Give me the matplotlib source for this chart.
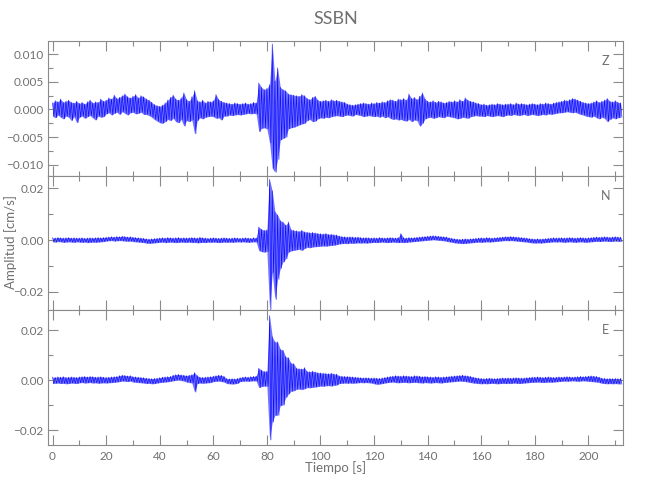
import numpy as np
import matplotlib
matplotlib.use('Agg')
import matplotlib.pyplot as plt
from matplotlib.ticker import MultipleLocator, FuncFormatter

plt.rcParams['font.family'] = ['Lato', 'DejaVu Sans']

# seismogram envelope: one (max, min) pair per second,
# in units of 1e-4 cm/s, t = 0 .. 212 s
tiempo = np.arange(213)

z_hi = [12, 16, 14, 19, 13, 15, 17, 13, 12, 15,
        11, 13, 10, 14, 17, 12, 14, 13, 19, 15,
        17, 21, 19, 26, 20, 22, 25, 28, 23, 21,
        24, 27, 21, 25, 23, 19, 17, 13, 9, 7,
        6, 8, 12, 17, 22, 26, 19, 17, 21, 30,
        18, 15, 23, 34, 16, 14, 17, 12, 15, 14,
        16, 27, 18, 15, 13, 12, 11, 10, 12, 11,
        10, 11, 12, 10, 11, 13, 12, 48, 40, 36,
        38, 45, 118, 51, 75, 40, 36, 34, 28, 27,
        26, 25, 24, 27, 25, 20, 18, 22, 24, 17,
        15, 16, 17, 15, 18, 16, 17, 15, 14, 13,
        10, 9, 8, 9, 10, 11, 12, 11, 10, 12,
        11, 13, 12, 14, 13, 16, 18, 17, 15, 19,
        18, 20, 17, 28, 20, 22, 18, 24, 30, 19,
        15, 14, 16, 13, 15, 14, 12, 13, 15, 14,
        16, 14, 18, 15, 21, 17, 15, 14, 12, 11,
        9, 10, 8, 9, 10, 9, 11, 10, 9, 10,
        10, 11, 9, 12, 10, 11, 10, 9, 10, 11,
        10, 9, 11, 10, 12, 11, 10, 12, 13, 14,
        15, 17, 16, 18, 20, 19, 17, 15, 13, 12,
        11, 12, 14, 16, 13, 15, 17, 20, 15, 14,
        16, 13, 12]
z_lo = [-12, -15, -10, -14, -17, -12, -14, -20, -13, -24,
        -14, -12, -16, -13, -11, -15, -19, -12, -14, -13,
        -8, -6, -10, -7, -5, -9, -4, -7, -10, -6,
        -5, -8, -7, -5, -9, -9, -11, -14, -18, -21,
        -24, -25, -22, -18, -20, -16, -22, -24, -18, -30,
        -20, -22, -19, -44, -20, -15, -17, -14, -13, -12,
        -13, -16, -15, -19, -12, -12, -10, -11, -10, -9,
        -10, -9, -8, -7, -8, -7, -8, -40, -34, -33,
        -35, -60, -106, -113, -90, -55, -52, -50, -35, -33,
        -32, -30, -28, -26, -25, -20, -18, -22, -21, -17,
        -15, -16, -14, -15, -13, -12, -11, -12, -13, -11,
        -10, -11, -12, -9, -10, -11, -13, -12, -11, -12,
        -13, -12, -14, -12, -15, -13, -16, -18, -17, -19,
        -18, -20, -21, -18, -22, -19, -20, -30, -25, -17,
        -15, -14, -16, -15, -13, -14, -15, -12, -13, -14,
        -15, -17, -16, -14, -15, -16, -13, -12, -11, -12,
        -12, -13, -11, -12, -13, -12, -11, -12, -13, -11,
        -10, -11, -9, -10, -11, -10, -9, -11, -10, -9,
        -10, -11, -10, -9, -10, -8, -9, -8, -7, -6,
        -6, -5, -4, -5, -6, -5, -7, -9, -10, -12,
        -13, -14, -12, -15, -17, -14, -16, -22, -18, -15,
        -17, -15, -14]

n_hi = [9, 8, 10, 9, 8, 9, 10, 8, 9, 8,
        8, 9, 7, 8, 9, 8, 9, 10, 9, 10,
        11, 12, 13, 12, 14, 13, 15, 14, 12, 13,
        11, 10, 9, 8, 7, 5, 4, 5, 6, 7,
        8, 9, 8, 10, 9, 8, 9, 10, 8, 9,
        8, 9, 10, 9, 8, 11, 9, 8, 7, 8,
        9, 8, 7, 8, 9, 8, 7, 8, 9, 8,
        7, 8, 9, 8, 7, 9, 8, 51, 42, 38,
        40, 235, 190, 110, 97, 75, 70, 58, 70, 40,
        38, 36, 34, 38, 32, 31, 29, 30, 28, 26,
        25, 24, 26, 22, 23, 21, 20, 16, 14, 13,
        12, 13, 12, 11, 12, 10, 9, 10, 9, 8,
        9, 8, 10, 9, 8, 9, 10, 9, 8, 10,
        25, 9, 8, 10, 9, 10, 11, 12, 13, 14,
        15, 16, 17, 16, 15, 14, 13, 12, 9, 7,
        5, 4, 3, 4, 5, 4, 5, 6, 7, 8,
        9, 8, 10, 9, 8, 9, 10, 11, 12, 13,
        13, 14, 13, 12, 11, 10, 9, 8, 6, 5,
        4, 5, 4, 5, 6, 7, 8, 9, 8, 9,
        9, 8, 9, 10, 9, 8, 9, 10, 9, 8,
        9, 10, 11, 12, 11, 12, 13, 12, 11, 12,
        13, 12, 11]
n_lo = [-7, -8, -6, -7, -9, -8, -7, -8, -9, -7,
        -8, -9, -8, -10, -9, -8, -9, -8, -7, -6,
        -4, -3, -2, -4, -3, -2, -3, -4, -5, -4,
        -6, -7, -8, -9, -10, -12, -13, -12, -11, -10,
        -9, -8, -10, -9, -8, -9, -10, -9, -8, -9,
        -9, -8, -10, -9, -11, -10, -9, -10, -8, -9,
        -8, -9, -10, -9, -8, -9, -8, -9, -8, -7,
        -8, -7, -8, -9, -8, -7, -8, -41, -45, -47,
        -44, -270, -126, -230, -152, -110, -85, -73, -47, -42,
        -40, -38, -36, -40, -33, -28, -30, -27, -26, -25,
        -24, -23, -24, -22, -21, -20, -18, -15, -14, -13,
        -14, -12, -13, -12, -11, -12, -11, -12, -11, -10,
        -9, -10, -9, -8, -9, -10, -9, -8, -9, -10,
        -9, -10, -9, -8, -7, -6, -5, -4, -3, -2,
        -1, 0, 1, 0, -1, -2, -3, -5, -7, -9,
        -11, -12, -13, -14, -13, -12, -11, -10, -9, -8,
        -9, -8, -7, -8, -7, -6, -5, -4, -3, -2,
        -3, -2, -3, -4, -5, -6, -7, -8, -10, -11,
        -12, -11, -12, -11, -10, -9, -8, -7, -8, -7,
        -8, -9, -8, -7, -8, -9, -8, -7, -8, -9,
        -8, -7, -6, -5, -6, -5, -4, -5, -6, -5,
        -4, -5, -6]

e_hi = [12, 11, 13, 12, 14, 11, 12, 13, 12, 11,
        13, 14, 15, 13, 15, 14, 12, 13, 14, 12,
        11, 12, 13, 14, 15, 18, 20, 19, 17, 18,
        14, 13, 12, 11, 10, 8, 7, 6, 7, 8,
        10, 12, 13, 14, 15, 20, 22, 23, 21, 20,
        18, 20, 22, 30, 18, 12, 11, 12, 13, 14,
        16, 18, 20, 19, 15, 6, 5, 6, 5, 7,
        10, 12, 13, 12, 14, 15, 16, 48, 40, 35,
        36, 258, 173, 153, 153, 123, 120, 94, 90, 68,
        66, 48, 46, 45, 50, 35, 34, 36, 33, 30,
        29, 28, 27, 26, 28, 25, 24, 17, 16, 15,
        15, 14, 13, 12, 11, 10, 9, 10, 9, 8,
        9, 8, 7, 9, 11, 13, 15, 16, 18, 17,
        16, 18, 17, 16, 15, 18, 17, 16, 14, 15,
        14, 13, 12, 14, 13, 12, 13, 14, 15, 16,
        17, 18, 19, 20, 18, 17, 15, 12, 10, 8,
        7, 6, 7, 8, 7, 6, 7, 8, 9, 8,
        9, 8, 9, 10, 9, 8, 9, 10, 11, 12,
        12, 13, 12, 11, 12, 13, 12, 11, 12, 13,
        12, 13, 14, 13, 12, 13, 14, 15, 14, 15,
        16, 17, 16, 15, 12, 8, 7, 6, 7, 6,
        7, 6, 7]
e_lo = [-14, -13, -12, -14, -13, -15, -14, -12, -13, -14,
        -11, -10, -12, -11, -10, -12, -11, -13, -12, -11,
        -12, -11, -10, -9, -8, -6, -4, -5, -6, -4,
        -8, -9, -10, -11, -12, -14, -13, -15, -14, -12,
        -10, -9, -8, -7, -5, -3, -1, 0, -2, -4,
        -8, -10, -12, -48, -14, -12, -13, -12, -11, -10,
        -6, -5, -4, -6, -8, -14, -15, -16, -15, -13,
        -6, -5, -4, -5, -4, -3, -4, -30, -26, -24,
        -25, -240, -168, -141, -141, -102, -100, -70, -56, -45,
        -43, -37, -36, -38, -35, -30, -31, -29, -28, -26,
        -24, -25, -23, -22, -24, -21, -20, -14, -13, -12,
        -13, -12, -13, -12, -11, -10, -11, -10, -11, -12,
        -15, -17, -16, -14, -12, -10, -9, -8, -10, -11,
        -10, -9, -10, -11, -10, -9, -10, -11, -12, -10,
        -11, -12, -11, -10, -11, -12, -10, -9, -8, -7,
        -6, -5, -4, -5, -6, -8, -10, -12, -13, -14,
        -15, -14, -15, -14, -13, -14, -15, -14, -13, -14,
        -13, -14, -12, -13, -14, -13, -12, -11, -10, -9,
        -9, -8, -9, -10, -9, -8, -9, -8, -7, -6,
        -5, -4, -5, -4, -3, -4, -5, -4, -3, -4,
        -5, -6, -7, -8, -10, -13, -14, -15, -14, -15,
        -14, -15, -16]

componentes = ['Z', 'N', 'E']
ylims = [(-0.0119, 0.0124), (-0.0272, 0.0250), (-0.0260, 0.0280)]
gris = '#8a8a8a'
gris_txt = '#707070'

fig = plt.figure(figsize=(6.5, 5), dpi=100)
left, width = 47.7 / 650, 575.3 / 650
h = 134.8 / 500
bottoms = [1 - 175.5 / 500, 1 - 310.3 / 500, 1 - 445 / 500]

datos = [(z_hi, z_lo), (n_hi, n_lo), (e_hi, e_lo)]
for k, (hi, lo) in enumerate(datos):
    ax = fig.add_axes([left, bottoms[k], width, h])
    hi = np.array(hi) * 1e-4
    lo = np.array(lo) * 1e-4
    # band between max and min, then zigzag max/min per second on top
    ax.fill_between(tiempo, lo, hi, color='#0000ff', alpha=0.55, lw=0)
    xx = np.column_stack([tiempo, tiempo + 0.5]).ravel()
    yy = np.column_stack([hi, lo]).ravel()
    ax.plot(xx, yy, color='#0000ff', lw=0.45, alpha=0.9)
    ax.set_xlim(-1.8, 212.9)
    ax.set_ylim(*ylims[k])
    ax.xaxis.set_major_locator(MultipleLocator(20))
    ax.xaxis.set_minor_locator(MultipleLocator(10))
    if k == 0:
        ax.yaxis.set_major_locator(MultipleLocator(0.005))
        ax.yaxis.set_minor_locator(MultipleLocator(0.0025))
        ax.yaxis.set_major_formatter(FuncFormatter(lambda v, p: f'{v:.3f}'.replace('-', '\u2212')))
    else:
        ax.yaxis.set_major_locator(MultipleLocator(0.02))
        ax.yaxis.set_minor_locator(MultipleLocator(0.01))
        ax.yaxis.set_major_formatter(FuncFormatter(lambda v, p: f'{v:.2f}'.replace('-', '\u2212')))
    ax.tick_params(which='both', direction='in', top=True, right=True, color=gris,
                   labelcolor=gris_txt, labelsize=8.5, width=0.8)
    ax.tick_params(which='major', length=7)
    ax.tick_params(which='minor', length=3.6)
    ax.tick_params(axis='y', pad=3)
    ax.tick_params(axis='x', pad=4)
    if k < 2:
        ax.tick_params(axis='x', labelbottom=False)
    for s in ax.spines.values():
        s.set_color(gris)
        s.set_linewidth(0.8)
    ax.text(0.97, 0.85, componentes[k], transform=ax.transAxes, ha='center', va='center',
            color=gris_txt, fontsize=9)

fig.text(0.517, 0.962, 'SSBN', ha='center', va='center', color=gris_txt, fontsize=13)
fig.text(0.517, 0.064, 'Tiempo [s]', ha='center', va='center', color=gris_txt, fontsize=9.5)
fig.text(0.016, 0.516, 'Amplitud [cm/s]', ha='center', va='center', rotation=90,
         color=gris_txt, fontsize=9.5)

fig.savefig('out.png', dpi=100)
